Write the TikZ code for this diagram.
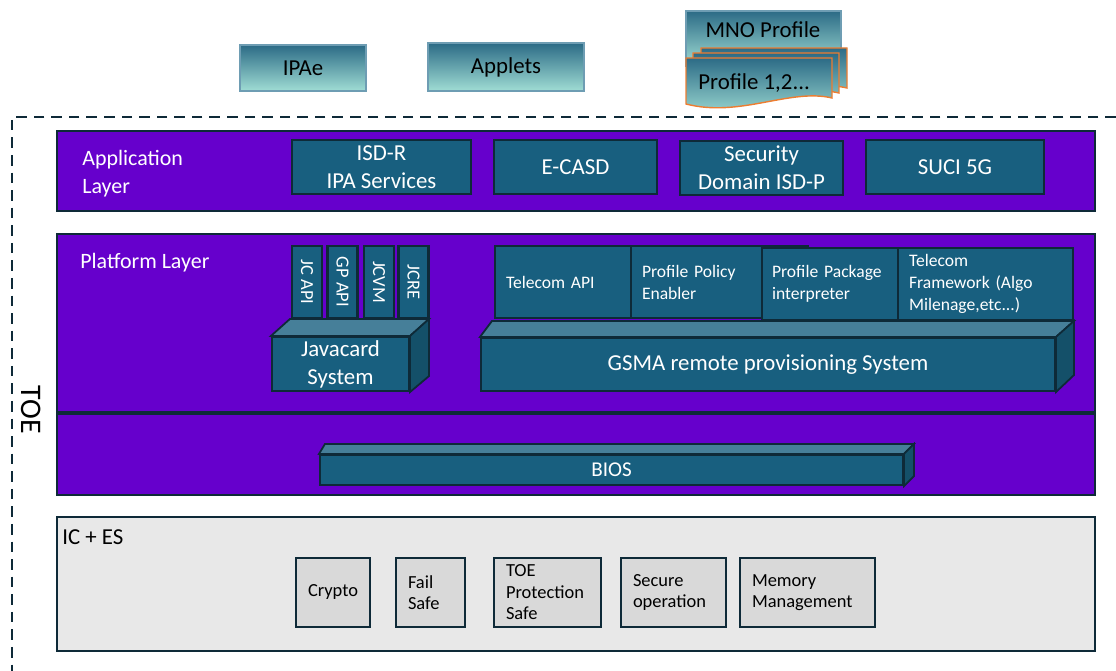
\documentclass[tikz,border=0pt]{standalone}
\usepackage{fontspec}
\setmainfont{Carlito}
\definecolor{layerpurple}{HTML}{6600CC}
\definecolor{modblue}{HTML}{185F7F}
\definecolor{edgedark}{HTML}{0E2A38}
\definecolor{modtop}{HTML}{467F99}
\definecolor{modside}{HTML}{145069}
\definecolor{icgray}{HTML}{E8E8E8}
\definecolor{cellgray}{HTML}{D9D9D9}
\definecolor{docorange}{HTML}{ED7D31}
\definecolor{gradtop}{HTML}{2C6B86}
\definecolor{gradmid}{HTML}{B3C8D6}
\definecolor{gradbot}{HTML}{A0DDD4}
\definecolor{gradedge}{HTML}{6E9DB3}
\begin{document}
\begin{tikzpicture}[x=0.02cm, y=-0.02cm,
  layer/.style={draw=edgedark, line width=1.2pt, fill=layerpurple},
  module/.style={draw=edgedark, line width=1.2pt, fill=modblue, text=white,
    inner sep=0pt, align=center, font=\fontsize{13}{16}\selectfont},
  cell/.style={module, align=left, inner xsep=0.22cm,
    font=\fontsize{10}{12.5}\selectfont\hyphenpenalty10000\relax},
  icbox/.style={draw=edgedark, line width=1pt, fill=cellgray, align=left,
    inner xsep=0.24cm, inner ysep=0pt, font=\fontsize{10.5}{12.2}\selectfont},
  topface/.style={draw=edgedark, line width=1pt, fill=modtop},
  sideface/.style={draw=edgedark, line width=1pt, fill=modside},
  shaded/.style={top color=gradtop, middle color=gradmid, bottom color=gradbot},
  layertext/.style={text=white, anchor=west, align=left, inner sep=0pt,
    font=\fontsize{12.5}{16}\selectfont}]
\useasboundingbox (0,0) rectangle (1116,671);

% items loaded above the TOE
\node[shaded, draw=gradedge, line width=0.6pt, minimum width=2.52cm, minimum height=0.92cm,
  font=\fontsize{13}{16}\selectfont] (ipae) at (303,68) {IPAe};
\node[shaded, draw=gradedge, line width=0.6pt, minimum width=3.12cm, minimum height=0.96cm,
  font=\fontsize{13}{16}\selectfont] (applets) at (506,67) {Applets};
\draw[shaded, draw=gradedge, line width=0.6pt] (686,11) rectangle (841,66);
\node[font=\fontsize{13}{16}\selectfont] (mno) at (763,30) {MNO Profile};
\foreach \dx/\dy in {15/-10, 7/-5, 0/0}
  \draw[shaded, draw=docorange, line width=0.8pt, shift={(\dx,\dy)}]
    (686,58) -- (832,58) -- (832,98) .. controls (790,88) and (740,118) .. (686,104) -- cycle;
\node[anchor=west, inner sep=0pt, font=\fontsize{13}{16}\selectfont] (profiles) at (698,83) {Profile 1,2...};

% TOE frame
\draw[edgedark, line width=0.9pt, dash pattern=on 6pt off 4pt] (1116,117) -- (12,117) -- (12,671);
\node[rotate=-90, font=\fontsize{17}{20}\selectfont] (toe) at (31,410) {TOE};

% layers
\draw[layer] (57,131) rectangle (1095,211);
\draw[layer] (57,234) rectangle (1095,412);
\draw[layer] (57,414) rectangle (1095,495);
\draw[draw=edgedark, line width=1pt, fill=icgray] (57,517) rectangle (1095,651);

\node[layertext] (applabel) at (82,174) {Application\\Layer};
\node[layertext] (platlabel) at (80,263) {Platform Layer};
\node[anchor=west, inner sep=0pt, font=\fontsize{13}{16}\selectfont] (iclabel) at (62,537) {IC + ES};

% application layer
\node[module, minimum width=3.58cm, minimum height=1.08cm] (isdr) at (381.5,167) {ISD-R\\IPA Services};
\node[module, minimum width=3.26cm, minimum height=1.08cm] (ecasd) at (575.5,167) {E-CASD};
\node[module, minimum width=3.26cm, minimum height=1.08cm] (isdp) at (761.5,168) {Security\\Domain ISD-P};
\node[module, minimum width=3.56cm, minimum height=1.08cm] (suci) at (955,167) {SUCI 5G};

% javacard stack
\foreach \name/\xc/\txt in {jcapi/307/JC API, gpapi/342.5/GP API, jcvm/379/JCVM, jcre/413.5/JCRE}
  \node[module, rotate=-90, minimum width=1.44cm, minimum height=0.6cm,
    font=\fontsize{10.5}{12}\selectfont] (\name) at (\xc,282) {\txt};
\node[module, minimum width=2.74cm, minimum height=1.08cm] (jcs) at (340.5,364) {Javacard\\System};
\draw[topface] (jcs.north west) -- ++(19,-17) -- ([shift={(19,-17)}]jcs.north east) -- (jcs.north east) -- cycle;
\draw[sideface] (jcs.north east) -- ([shift={(19,-17)}]jcs.north east) -- ([shift={(19,-16)}]jcs.south east) -- (jcs.south east) -- cycle;

% remote provisioning stack
\node[cell, text width=2.28cm, minimum height=1.44cm] (tapi) at (563,282) {Telecom API};
\node[cell, text width=3.10cm, minimum height=1.44cm] (ppe) at (719.5,282) {Profile Policy\\Enabler};
\node[cell, inner xsep=0.2cm, text width=2.32cm, minimum height=1.44cm] (ppi) at (830,284) {Profile Package\\interpreter};
\node[cell, text width=3.06cm, minimum height=1.44cm] (tfw) at (985.5,284) {Telecom\\Framework (Algo\\Milenage,etc...)};
\node[module, minimum width=11.48cm, minimum height=1.06cm] (gsma) at (768,364.5) {GSMA remote provisioning System};
\draw[topface] (gsma.north west) -- ++(12,-16) -- ([shift={(18,-16)}]gsma.north east) -- (gsma.north east) -- cycle;
\draw[sideface] (gsma.north east) -- ([shift={(18,-16)}]gsma.north east) -- ([shift={(18,-17)}]gsma.south east) -- (gsma.south east) -- cycle;

% bios
\node[module, minimum width=11.66cm, minimum height=0.6cm, font=\fontsize{12}{14}\selectfont] (bios) at (611.5,470) {BIOS};
\draw[topface] (bios.north west) -- ++(6,-10) -- ([shift={(10,-10)}]bios.north east) -- (bios.north east) -- cycle;
\draw[sideface] (bios.north east) -- ([shift={(10,-10)}]bios.north east) -- ([shift={(10,-10)}]bios.south east) -- (bios.south east) -- cycle;

% IC + ES services
\node[icbox, text width=1.0cm, minimum height=1.38cm] (crypto) at (333,592.5) {Crypto};
\node[icbox, text width=0.9cm, minimum height=1.38cm] (failsafe) at (430.5,592.5) {Fail\\Safe};
\node[icbox, text width=1.66cm, minimum height=1.38cm] (toeprot) at (547.5,592.5) {TOE\\Protection\\Safe};
\node[icbox, text width=1.62cm, minimum height=1.38cm] (secop) at (673.5,592.5) {Secure\\operation};
\node[icbox, text width=2.22cm, minimum height=1.38cm] (memmgmt) at (807.5,592.5) {Memory\\Management};
\end{tikzpicture}
\end{document}
